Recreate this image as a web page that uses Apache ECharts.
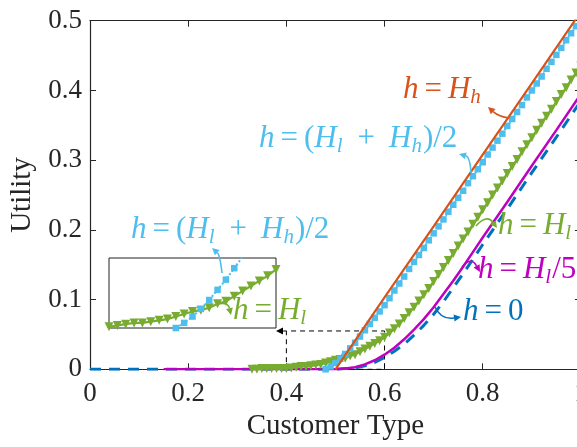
<!DOCTYPE html>
<html>
<head>
<meta charset="utf-8">
<script src="https://cdn.jsdelivr.net/npm/echarts@6/dist/echarts.min.js"></script>
<style>
  html, body { margin: 0; padding: 0; background: #fff; }
  #chart { width: 577px; height: 447px; }
</style>
</head>
<body>
<div id="chart"></div>
<script>
// ---- axis ranges ----
const xRange = [0, 1];
const xStep = 0.2;
const yRange = [0, 0.5];
const yStep = 0.1;
// zoomed window shown in the inset
const zoomX = [0.4, 0.6];
const zoomY = [0, 0.055];

// ---- h = 0 ----
const h0X = [0.00, 0.50, 0.52, 0.54, 0.56, 0.58, 0.60, 0.62, 0.64, 0.66, 0.68, 0.70, 0.72, 0.74, 0.76, 0.78, 0.80, 0.85, 0.90, 0.95, 1.00];
const h0Y = [0.000, 0.000, 0.001, 0.002, 0.005, 0.010, 0.017, 0.026, 0.036, 0.049, 0.063, 0.079, 0.097, 0.117, 0.137, 0.158, 0.179, 0.230, 0.282, 0.333, 0.385];

// ---- h = H_l/5 ----
const hl5X = [0.15, 0.50, 0.52, 0.54, 0.56, 0.58, 0.60, 0.62, 0.64, 0.66, 0.68, 0.70, 0.72, 0.74, 0.76, 0.78, 0.80, 0.85, 0.90, 0.95, 1.00];
const hl5Y = [0.000, 0.000, 0.001, 0.003, 0.007, 0.013, 0.021, 0.031, 0.043, 0.057, 0.072, 0.089, 0.108, 0.127, 0.147, 0.168, 0.189, 0.240, 0.292, 0.343, 0.395];

// ---- h = H_l ----
const hlX = [0.33, 0.34, 0.35, 0.36, 0.37, 0.38, 0.39, 0.40, 0.41, 0.42, 0.43, 0.44, 0.45, 0.46, 0.47, 0.48, 0.49,
  0.50, 0.51, 0.52, 0.53, 0.54, 0.55, 0.56, 0.57, 0.58, 0.59, 0.60, 0.61, 0.62, 0.63, 0.64, 0.65, 0.66, 0.67, 0.68, 0.69,
  0.70, 0.71, 0.72, 0.73, 0.74, 0.75, 0.76, 0.77, 0.78, 0.79, 0.80, 0.81, 0.82, 0.83, 0.84, 0.85, 0.86, 0.87, 0.88, 0.89,
  0.90, 0.91, 0.92, 0.93, 0.94, 0.95, 0.96, 0.97, 0.98, 0.99, 1.00];
const hlY = [0.000, 0.000, 0.001, 0.001, 0.001, 0.001, 0.001, 0.001, 0.002, 0.003, 0.004, 0.004, 0.005, 0.006, 0.007, 0.009, 0.011,
  0.013, 0.014, 0.016, 0.019, 0.021, 0.025, 0.029, 0.033, 0.037, 0.041, 0.046, 0.052, 0.058, 0.065, 0.073, 0.081, 0.089, 0.098, 0.107, 0.116,
  0.126, 0.136, 0.146, 0.156, 0.166, 0.177, 0.187, 0.197, 0.208, 0.218, 0.229, 0.239, 0.250, 0.260, 0.270, 0.281, 0.291, 0.301, 0.312, 0.322,
  0.332, 0.343, 0.353, 0.363, 0.373, 0.384, 0.394, 0.404, 0.415, 0.425, 0.435];

// ---- h = (H_l + H_h)/2 ----
const hmX = [0.48, 0.49, 0.50, 0.51, 0.52, 0.53, 0.54, 0.55, 0.56, 0.57, 0.58, 0.59, 0.60, 0.61, 0.62, 0.63, 0.64, 0.65, 0.66, 0.67, 0.68, 0.69,
  0.70, 0.71, 0.72, 0.73, 0.74, 0.75, 0.76, 0.77, 0.78, 0.79, 0.80, 0.81, 0.82, 0.83, 0.84, 0.85, 0.86, 0.87, 0.88, 0.89,
  0.90, 0.91, 0.92, 0.93, 0.94, 0.95, 0.96, 0.97, 0.98, 0.99, 1.00];
const hmY = [0.000, 0.004, 0.009, 0.015, 0.022, 0.030, 0.038, 0.047, 0.056, 0.065, 0.074, 0.083, 0.092, 0.102, 0.113, 0.123, 0.133, 0.144, 0.154, 0.164, 0.174, 0.185,
  0.195, 0.205, 0.215, 0.226, 0.236, 0.246, 0.256, 0.267, 0.277, 0.287, 0.297, 0.308, 0.318, 0.328, 0.338, 0.349, 0.359, 0.369, 0.379, 0.390,
  0.400, 0.410, 0.420, 0.431, 0.441, 0.451, 0.461, 0.472, 0.482, 0.492, 0.502];

// ---- h = H_h ----
const hhX = [0.50, 0.60, 0.70, 0.80, 0.90, 1.00];
const hhY = [0.000, 0.103, 0.205, 0.308, 0.410, 0.513];

const zip = (xs, ys) => xs.map((x, i) => [x, ys[i]]);

const C = {
  blue: '#0072BD', orange: '#D95319', green: '#77AC30', cyan: '#4DBEEE', magenta: '#BF00BF', axis: '#262626'
};
const SERIF = 'Liberation Serif';

// math-style label: italic symbols, upright operators, lowered subscripts
function mathText(tokens, x, y, color) {
  const base = { fontFamily: SERIF, fontSize: 31, lineHeight: 33, verticalAlign: 'top', fill: color };
  const rich = {
    i: Object.assign({}, base, { fontStyle: 'italic' }),
    r: Object.assign({}, base),
    e: Object.assign({}, base, { padding: [0, 6, 0, 6] }),
    p: Object.assign({}, base, { padding: [0, 14, 0, 14] }),
    s: { fontFamily: SERIF, fontStyle: 'italic', fontSize: 21, lineHeight: 21, verticalAlign: 'bottom', padding: [17, 1, 0, 0], fill: color }
  };
  const text = tokens.map(t => '{' + t[0] + '|' + t[1] + '}').join('');
  return { type: 'text', x: x, y: y, z: 100,
    style: { text: text, rich: rich, fill: color, align: 'left', verticalAlign: 'middle' } };
}

// curved pointer with a filled head at its end
function pointer(p0, c, p1, color, lw) {
  const a = Math.atan2(p1[1] - c[1], p1[0] - c[0]);
  const L = 7, W = 3.5;
  const bx = p1[0] - L * Math.cos(a), by = p1[1] - L * Math.sin(a);
  return [
    { type: 'bezierCurve', z: 100, shape: { x1: p0[0], y1: p0[1], cpx1: c[0], cpy1: c[1], x2: bx, y2: by },
      style: { stroke: color, lineWidth: lw || 1.6, fill: null } },
    { type: 'polygon', z: 100, shape: { points: [[p1[0], p1[1]], [bx - W * Math.sin(a), by + W * Math.cos(a)], [bx + W * Math.sin(a), by - W * Math.cos(a)]] },
      style: { fill: color } }
  ];
}

const eqHl = [['i', 'h'], ['e', '='], ['i', 'H'], ['s', 'l']];
const eqMid = [['i', 'h'], ['e', '='], ['r', '('], ['i', 'H'], ['s', 'l'], ['p', '+'], ['i', 'H'], ['s', 'h'], ['r', ')/2']];

const graphics = [].concat(
  [mathText([['i', 'h'], ['e', '='], ['i', 'H'], ['s', 'h']], 403, 91, C.orange)],
  pointer([509, 118], [499, 117], [488, 107], C.orange),
  [mathText(eqMid, 259, 140, C.cyan)],
  pointer([471, 173], [470, 157], [459, 154], C.cyan),
  [mathText(eqMid, 131, 231, C.cyan)],
  pointer([222, 273], [220, 255], [212, 248], C.cyan),
  [mathText(eqHl, 233, 312, C.green)],
  pointer([218, 304], [228, 302], [231, 315], C.green),
  [mathText(eqHl, 498, 227, C.green)],
  pointer([476, 226], [487, 214], [497, 228], C.green),
  [mathText([['i', 'h'], ['e', '='], ['i', 'H'], ['s', 'l'], ['r', '/5']], 478, 271, C.magenta)],
  pointer([462, 267], [471, 256], [480, 272], C.magenta),
  [mathText([['i', 'h'], ['e', '='], ['r', '0']], 463, 313, C.blue)],
  pointer([435, 307], [441, 320], [461, 317], C.blue),
  pointer([286, 331], [281, 331], [276, 331], '#000', 1)
);

const tickStyle = { show: true, inside: true, length: 6, lineStyle: { color: C.axis, width: 1 } };
const lineStyleAxis = { show: true, onZero: false, lineStyle: { color: C.axis, width: 1.2 } };
const hidden = { show: false };

const option = {
  animation: false,
  backgroundColor: '#fff',
  grid: [
    { left: 90, top: 20.7, width: 490.9, height: 348.6, outerBoundsMode: 'none', containLabel: false },
    { left: 109, top: 258, width: 167, height: 70, outerBoundsMode: 'none', containLabel: false,
      show: true, borderColor: '#222', borderWidth: 1, backgroundColor: '#fff', z: 3 }
  ],
  xAxis: [
    { type: 'value', gridIndex: 0, min: xRange[0], max: xRange[1], interval: xStep,
      name: 'Customer Type', nameLocation: 'middle', nameGap: 37,
      nameTextStyle: { fontFamily: SERIF, fontSize: 29, color: C.axis },
      axisLine: lineStyleAxis, axisTick: tickStyle, splitLine: hidden,
      axisLabel: { margin: 11, fontFamily: SERIF, fontSize: 27, color: C.axis } },
    { type: 'value', gridIndex: 0, position: 'top', min: xRange[0], max: xRange[1], interval: xStep,
      axisLine: lineStyleAxis, axisTick: tickStyle, splitLine: hidden, axisLabel: hidden },
    { type: 'value', gridIndex: 1, min: zoomX[0], max: zoomX[1],
      axisLine: hidden, axisTick: hidden, splitLine: hidden, axisLabel: hidden }
  ],
  yAxis: [
    { type: 'value', gridIndex: 0, min: yRange[0], max: yRange[1], interval: yStep,
      name: 'Utility', nameLocation: 'middle', nameGap: 43,
      nameTextStyle: { fontFamily: SERIF, fontSize: 29, color: C.axis },
      axisLine: lineStyleAxis, axisTick: tickStyle, splitLine: hidden,
      axisLabel: { margin: 8, fontFamily: SERIF, fontSize: 27, color: C.axis } },
    { type: 'value', gridIndex: 0, position: 'right', min: yRange[0], max: yRange[1], interval: yStep,
      axisLine: lineStyleAxis, axisTick: tickStyle, splitLine: hidden, axisLabel: hidden },
    { type: 'value', gridIndex: 1, min: zoomY[0], max: zoomY[1],
      axisLine: hidden, axisTick: hidden, splitLine: hidden, axisLabel: hidden }
  ],
  series: [
    { name: 'h=0', type: 'line', data: zip(h0X, h0Y), showSymbol: false, z: 2,
      lineStyle: { color: C.blue, width: 3, type: [11, 8] },
      markArea: { silent: true, itemStyle: { color: 'rgba(0,0,0,0)', borderColor: '#000', borderWidth: 1, borderType: [5, 4] },
        data: [[{ xAxis: zoomX[0], yAxis: zoomY[0] }, { xAxis: zoomX[1], yAxis: zoomY[1] }]] } },
    { name: 'h=Hl/5', type: 'line', data: zip(hl5X, hl5Y), showSymbol: false, z: 3,
      lineStyle: { color: C.magenta, width: 2.5 } },
    { name: 'h=Hl', type: 'line', data: zip(hlX, hlY), z: 4, showAllSymbol: true,
      symbol: 'triangle', symbolRotate: 180, symbolSize: 9, itemStyle: { color: C.green },
      lineStyle: { color: C.green, width: 2.2 } },
    { name: 'h=mid', type: 'line', data: zip(hmX, hmY), z: 5, showAllSymbol: true,
      symbol: 'rect', symbolSize: 6.5, itemStyle: { color: C.cyan },
      lineStyle: { color: C.cyan, width: 2, type: 'dotted' } },
    { name: 'h=Hh', type: 'line', data: zip(hhX, hhY), showSymbol: false, z: 6,
      lineStyle: { color: C.orange, width: 2.2 } },
    // inset copies of the two curves that separate inside the dashed window
    { name: 'inset h=Hl', type: 'line', xAxisIndex: 2, yAxisIndex: 2, data: zip(hlX, hlY), z: 4, showAllSymbol: true,
      symbol: 'triangle', symbolRotate: 180, symbolSize: 9, itemStyle: { color: C.green },
      lineStyle: { color: C.green, width: 2.2 } },
    { name: 'inset h=mid', type: 'line', xAxisIndex: 2, yAxisIndex: 2, data: zip(hmX, hmY), z: 5, showAllSymbol: true,
      symbol: 'rect', symbolSize: 6.5, itemStyle: { color: C.cyan },
      lineStyle: { color: C.cyan, width: 2, type: 'dotted' } }
  ],
  graphic: graphics
};

const chart = echarts.init(document.getElementById('chart'), null, { renderer: 'canvas' });
chart.setOption(option);
</script>
</body>
</html>
